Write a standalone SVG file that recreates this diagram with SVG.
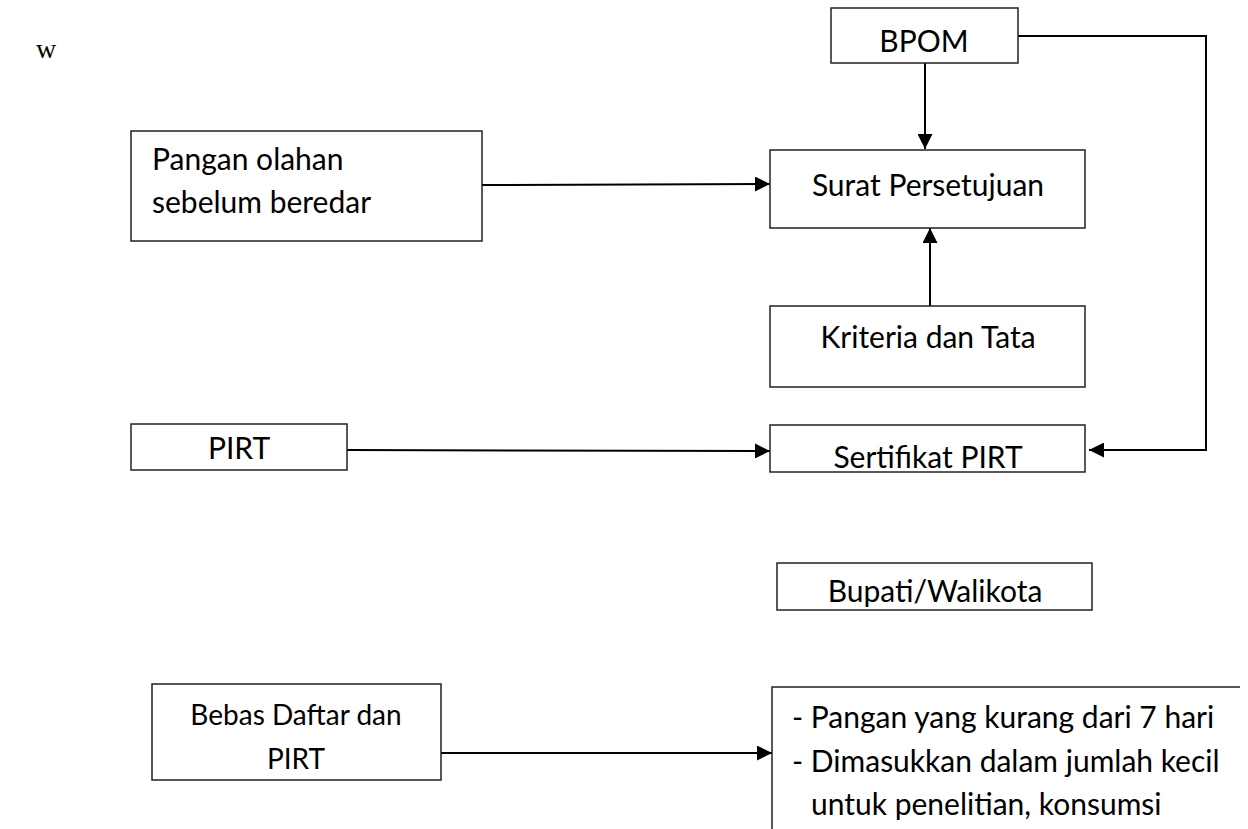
<svg xmlns="http://www.w3.org/2000/svg" width="1248" height="829" viewBox="0 0 1248 829">
<defs>
<style>
.box{fill:#fff;stroke:#222;stroke-width:1.5}
.t{font-family:Lato,"Open Sans",sans-serif;font-size:30px;fill:#000}
.s{font-size:28px}
.c{text-anchor:middle}
.ln{fill:none;stroke:#000;stroke-width:2}
</style>
<marker id="ah" viewBox="0 0 15 15" refX="15" refY="7.5" markerWidth="15" markerHeight="15" markerUnits="userSpaceOnUse" orient="auto">
<path d="M0,0 L15,7.5 L0,15 z" fill="#000"/>
</marker>
</defs>
<rect width="1248" height="829" fill="#fff"/>
<text x="36" y="58" style="font-family:'Liberation Serif',serif;font-size:28px" fill="#000">w</text>
<g id="connectors">
<line class="ln" x1="925" y1="63" x2="925" y2="149" marker-end="url(#ah)"/>
<polyline class="ln" points="1018,36 1206,36 1206,450 1089,450" marker-end="url(#ah)"/>
<line class="ln" x1="482" y1="185" x2="770" y2="184" marker-end="url(#ah)"/>
<line class="ln" x1="930" y1="306" x2="930" y2="228" marker-end="url(#ah)"/>
<line class="ln" x1="347" y1="450" x2="770" y2="451" marker-end="url(#ah)"/>
<line class="ln" x1="441" y1="753" x2="772" y2="753" marker-end="url(#ah)"/>
</g>
<g id="bpom"><rect class="box" x="831" y="8" width="187" height="55"/><text class="t c" x="924" y="52">BPOM</text></g>
<g id="pangan"><rect class="box" x="131" y="131" width="351" height="110"/><text class="t" x="152" y="170">Pangan olahan</text><text class="t" x="152" y="213">sebelum beredar</text></g>
<g id="surat"><rect class="box" x="770" y="150" width="315" height="78"/><text class="t c" x="928" y="196">Surat Persetujuan</text></g>
<g id="kriteria"><rect class="box" x="770" y="306" width="315" height="81"/><text class="t c" x="928" y="348">Kriteria dan Tata</text></g>
<g id="pirt"><rect class="box" x="131" y="424" width="216" height="46"/><text class="t c" x="239" y="459">PIRT</text></g>
<g id="sertifikat"><rect class="box" x="770" y="425" width="315" height="47"/><text class="t c" x="928" y="468">Sertifikat PIRT</text></g>
<g id="bupati"><rect class="box" x="777" y="563" width="315" height="47"/><text class="t c" x="935" y="602">Bupati/Walikota</text></g>
<g id="bebas"><rect class="box" x="152" y="684" width="289" height="96"/><text class="t s c" x="296" y="725">Bebas Daftar dan</text><text class="t s c" x="296" y="769">PIRT</text></g>
<g id="list"><path class="box" d="M772,829 L772,687 L1240,687" fill="none"/><text class="t" x="792" y="728">- Pangan yang kurang dari 7 hari</text><text class="t" x="792" y="772">- Dimasukkan dalam jumlah kecil</text><text class="t" x="811" y="815">untuk penelitian, konsumsi</text></g>
</svg>
